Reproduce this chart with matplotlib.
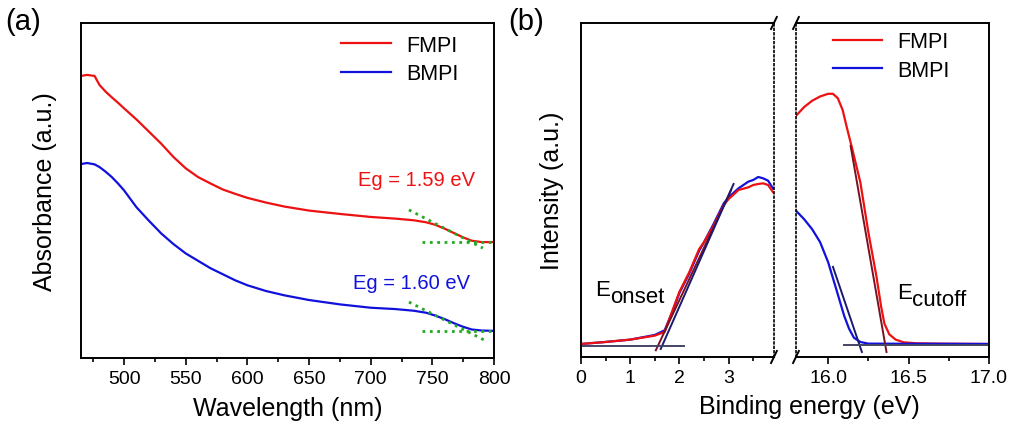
import numpy as np
import matplotlib
matplotlib.use('Agg')
import matplotlib.pyplot as plt

plt.rcParams['font.family'] = ['Liberation Sans', 'DejaVu Sans']

# (a) absorbance spectra
wl = [465, 470, 476, 480, 485, 490, 495, 500, 510, 520, 530, 540, 550, 560, 570, 580, 590, 600,
      615, 630, 650, 675, 700, 720, 735, 745, 752, 760, 768, 775, 782, 790, 800]
abs_fmpi = [0.842, 0.845, 0.842, 0.815, 0.795, 0.778, 0.762, 0.745, 0.712, 0.676, 0.640, 0.600,
            0.566, 0.540, 0.521, 0.503, 0.490, 0.478, 0.464, 0.452, 0.440, 0.430, 0.421, 0.416,
            0.411, 0.405, 0.398, 0.386, 0.372, 0.360, 0.350, 0.346, 0.346]
abs_bmpi = [0.579, 0.582, 0.578, 0.570, 0.556, 0.540, 0.521, 0.500, 0.450, 0.410, 0.372, 0.340,
            0.312, 0.290, 0.268, 0.250, 0.232, 0.217, 0.200, 0.187, 0.173, 0.160, 0.150, 0.146,
            0.141, 0.135, 0.127, 0.116, 0.103, 0.093, 0.085, 0.082, 0.081]
# tangent lines (x0, x1, y0, y1)
tan_fmpi = [(731, 791, 0.442, 0.328), (742, 800, 0.346, 0.346)]
tan_bmpi = [(731, 794, 0.167, 0.050), (742, 800, 0.080, 0.080)]
eg_labels = ['Eg = 1.59 eV', 'Eg = 1.60 eV']

# (b) UPS, valence band region
be_vb = [0.0, 0.5, 1.0, 1.5, 1.7, 1.87, 2.0, 2.2, 2.4, 2.5, 2.7, 2.9, 3.0, 3.2, 3.4, 3.5, 3.6,
         3.7, 3.8, 3.9]
vb_fmpi = [0.039, 0.045, 0.052, 0.064, 0.075, 0.144, 0.195, 0.254, 0.323, 0.344, 0.395, 0.455,
           0.473, 0.500, 0.508, 0.515, 0.518, 0.520, 0.515, 0.494]
vb_bmpi = [0.039, 0.045, 0.052, 0.066, 0.080, 0.140, 0.192, 0.250, 0.318, 0.344, 0.400, 0.460,
           0.478, 0.505, 0.525, 0.530, 0.539, 0.535, 0.528, 0.505]
vb_tan_fmpi = (1.52, 3.05, 0.020, 0.500)
vb_tan_bmpi = (1.62, 3.10, 0.024, 0.518)
vb_base = (0.0, 2.1, 0.034)

# (b) secondary electron cutoff region
be_co_f = [15.8, 15.85, 15.9, 15.95, 16.0, 16.03, 16.06, 16.09, 16.12, 16.15, 16.2, 16.25, 16.3,
           16.33, 16.35, 16.38, 16.42, 16.47, 16.55, 16.7, 17.0]
co_fmpi = [0.722, 0.748, 0.767, 0.780, 0.788, 0.788, 0.775, 0.740, 0.680, 0.623, 0.524, 0.374,
           0.243, 0.150, 0.100, 0.068, 0.052, 0.044, 0.041, 0.040, 0.039]
be_co_b = [15.8, 15.85, 15.9, 15.95, 16.0, 16.05, 16.1, 16.13, 16.16, 16.2, 16.25, 17.0]
co_bmpi = [0.438, 0.413, 0.383, 0.344, 0.284, 0.204, 0.123, 0.085, 0.058, 0.045, 0.040, 0.039]
co_tan_fmpi = (16.14, 16.363, 0.632, 0.015)
co_tan_bmpi = (16.03, 16.21, 0.270, 0.015)
co_base = (16.1, 17.0, 0.037)

red = '#ee1111'
blue = '#1111dd'
green = '#22aa22'
dark_red = '#7a1020'
dark_blue = '#1a1a70'
base_col = '#444466'

fig = plt.figure(figsize=(10.15, 4.27), dpi=100)
axa = fig.add_axes([0.0798, 0.1593, 0.4069, 0.7845])
axl = fig.add_axes([0.5724, 0.1616, 0.1901, 0.7822])
axr = fig.add_axes([0.7842, 0.1616, 0.1901, 0.7822])

for ax in (axa, axl, axr):
    for s in ax.spines.values():
        s.set_linewidth(1.4)
    ax.tick_params(axis='x', direction='out', length=5, width=1.2, labelsize=14, pad=4)
    ax.tick_params(axis='x', which='minor', direction='out', length=3, width=1.2)
    ax.set_yticks([])
    ax.set_ylim(0, 1)


def sub_label(ax, x, y, main, sub):
    # "E" followed by a same-size subscript, as in the original figure
    ax.text(x, y, main, fontsize=16, ha='left', va='baseline')
    ax.annotate(sub, (x, y), xytext=(10.9, -5), textcoords='offset points',
                fontsize=16, ha='left', va='baseline')


# ---- panel (a)
axa.plot(wl, abs_fmpi, color=red, lw=1.6, label='FMPI')
axa.plot(wl, abs_bmpi, color=blue, lw=1.6, label='BMPI')
for x0, x1, y0, y1 in tan_fmpi + tan_bmpi:
    axa.plot([x0, x1], [y0, y1], color=green, ls=':', lw=2)
axa.text(737, 0.534, eg_labels[0], color=red, fontsize=14.5, ha='center', va='center')
axa.text(733, 0.226, eg_labels[1], color=blue, fontsize=14.5, ha='center', va='center')
axa.set_xlim(465, 800)
axa.set_xticks([500, 550, 600, 650, 700, 750, 800])
axa.set_xticks([475, 525, 575, 625, 675, 725, 775], minor=True)
axa.set_xlabel('Wavelength (nm)', fontsize=18, labelpad=6)
axa.set_ylabel('Absorbance (a.u.)', fontsize=18, labelpad=17)
axa.legend(loc='upper left', bbox_to_anchor=(0.63, 0.965), frameon=False, fontsize=15.5,
           handlelength=2.3, borderaxespad=0, borderpad=0, labelspacing=0.35, handletextpad=0.7)

# ---- panel (b), left part
axl.plot(be_vb, vb_bmpi, color=blue, lw=1.6)
axl.plot(be_vb, vb_fmpi, color=red, lw=1.6)
axl.plot(vb_tan_fmpi[:2], vb_tan_fmpi[2:], color=dark_red, lw=1.4)
axl.plot(vb_tan_bmpi[:2], vb_tan_bmpi[2:], color=dark_blue, lw=1.4)
axl.plot(vb_base[:2], [vb_base[2]] * 2, color=base_col, lw=1.4)
sub_label(axl, 0.28, 0.185, 'E', 'onset')
axl.set_xlim(0, 3.92)
axl.set_xticks([0, 1, 2, 3])
axl.set_xticks([0.5, 1.5, 2.5, 3.5], minor=True)
axl.set_ylabel('Intensity (a.u.)', fontsize=18, labelpad=12)
axl.spines['right'].set_linestyle(':')
axl.spines['right'].set_linewidth(1.2)

# ---- panel (b), right part
axr.plot(be_co_f, co_fmpi, color=red, lw=1.6, label='FMPI')
axr.plot(be_co_b, co_bmpi, color=blue, lw=1.6, label='BMPI')
axr.plot(co_tan_fmpi[:2], co_tan_fmpi[2:], color=dark_red, lw=1.4)
axr.plot(co_tan_bmpi[:2], co_tan_bmpi[2:], color=dark_blue, lw=1.4)
axr.plot(co_base[:2], [co_base[2]] * 2, color=base_col, lw=1.4)
sub_label(axr, 16.43, 0.177, 'E', 'cutoff')
axr.set_xlim(15.8, 17.0)
axr.set_xticks([16.0, 16.5, 17.0])
axr.set_xticklabels(['16.0', '16.5', '17.0'])
axr.set_xticks([16.25, 16.75], minor=True)
axr.spines['left'].set_linestyle(':')
axr.spines['left'].set_linewidth(1.2)
axr.legend(loc='upper left', bbox_to_anchor=(0.19, 0.975), frameon=False, fontsize=15.5,
           handlelength=2.3, borderaxespad=0, borderpad=0, labelspacing=0.35, handletextpad=0.7)

# break marks
d = 0.03
for ax, xe in ((axl, 1.0), (axr, 0.0)):
    for ye in (0.0, 1.0):
        ax.plot([xe - d * 0.5, xe + d * 0.5], [ye - d * 0.6, ye + d * 0.6], transform=ax.transAxes,
                color='k', lw=1.4, clip_on=False)

fig.text(809 / 1015, 1 - 407 / 427, 'Binding energy (eV)', fontsize=18, ha='center', va='center')
fig.text(5 / 1015, 1 - 22 / 427, '(a)', fontsize=21, ha='left', va='center')
fig.text(508 / 1015, 1 - 22 / 427, '(b)', fontsize=21, ha='left', va='center')

fig.savefig('out.png', dpi=100)
